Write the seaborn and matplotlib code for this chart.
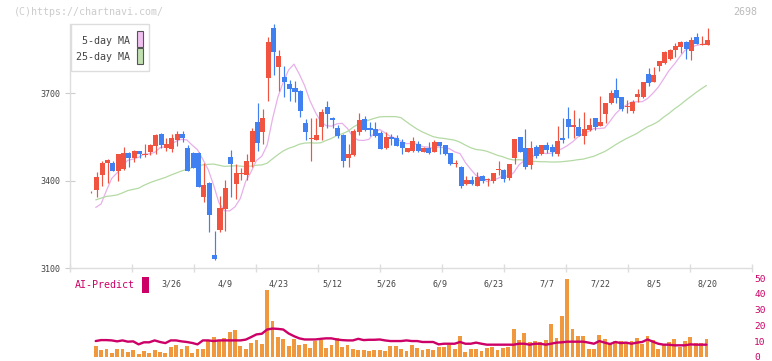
import numpy as np
import pandas as pd
import seaborn as sns
import matplotlib.pyplot as plt
from matplotlib.patches import Rectangle

# ---- data ----
date_labels = ['3/26', '4/9', '4/23', '5/12', '5/26', '6/9', '6/23', '7/7', '7/22', '8/5', '8/20']
date_pos = [15, 25, 35, 45, 55, 65, 75, 85, 95, 105, 115]

opens = [3360, 3369, 3419, 3460, 3461, 3434, 3440, 3495, 3479, 3502,
         3489, 3498, 3520, 3560, 3512, 3510, 3540, 3560, 3513, 3495,
         3494, 3345, 3392, 3146, 3231, 3303, 3482, 3388, 3424, 3419,
         3465, 3601, 3568, 3752, 3923, 3791, 3757, 3732, 3719, 3708,
         3599, 3544, 3541, 3585, 3654, 3615, 3582, 3558, 3479, 3488,
         3568, 3612, 3580, 3577, 3563, 3511, 3551, 3545, 3532, 3499,
         3502, 3525, 3499, 3513, 3499, 3532, 3522, 3494, 3457, 3448,
         3388, 3402, 3382, 3416, 3403, 3400, 3438, 3437, 3410, 3477,
         3549, 3511, 3454, 3515, 3490, 3522, 3515, 3490, 3545, 3612,
         3585, 3585, 3554, 3574, 3614, 3589, 3629, 3666, 3711, 3686,
         3652, 3640, 3686, 3686, 3766, 3740, 3795, 3803, 3818, 3849,
         3860, 3876, 3846, 3893, 3866, 3867]
highs = [3363, 3431, 3467, 3473, 3467, 3492, 3516, 3497, 3504, 3503,
         3526, 3526, 3559, 3562, 3545, 3560, 3570, 3572, 3522, 3498,
         3498, 3462, 3395, 3227, 3347, 3402, 3505, 3457, 3442, 3492,
         3582, 3668, 3645, 3893, 3938, 3849, 3795, 3746, 3742, 3710,
         3612, 3614, 3616, 3645, 3675, 3617, 3590, 3560, 3526, 3576,
         3631, 3622, 3602, 3600, 3570, 3566, 3559, 3556, 3543, 3513,
         3551, 3536, 3515, 3532, 3541, 3534, 3524, 3496, 3470, 3450,
         3416, 3416, 3429, 3418, 3408, 3427, 3468, 3440, 3458, 3544,
         3551, 3576, 3537, 3522, 3524, 3534, 3526, 3588, 3614, 3652,
         3643, 3614, 3635, 3614, 3616, 3691, 3668, 3711, 3752, 3688,
         3677, 3677, 3714, 3740, 3786, 3791, 3812, 3846, 3852, 3874,
         3878, 3878, 3894, 3906, 3897, 3925]
lows = [3359, 3345, 3383, 3391, 3432, 3400, 3436, 3448, 3465, 3478,
        3480, 3489, 3492, 3513, 3502, 3499, 3520, 3532, 3432, 3443,
        3377, 3326, 3225, 3128, 3225, 3228, 3345, 3338, 3402, 3402,
        3446, 3503, 3525, 3675, 3763, 3708, 3688, 3675, 3671, 3620,
        3540, 3468, 3539, 3540, 3580, 3580, 3545, 3448, 3448, 3486,
        3557, 3572, 3553, 3551, 3507, 3509, 3522, 3518, 3492, 3497,
        3497, 3497, 3497, 3491, 3497, 3490, 3488, 3455, 3448, 3375,
        3385, 3385, 3380, 3391, 3383, 3393, 3419, 3394, 3402, 3456,
        3497, 3439, 3441, 3477, 3488, 3494, 3486, 3485, 3530, 3545,
        3545, 3552, 3526, 3572, 3574, 3587, 3599, 3664, 3666, 3640,
        3633, 3633, 3671, 3684, 3725, 3738, 3775, 3800, 3815, 3826,
        3839, 3818, 3814, 3868, 3865, 3865]
closes = [3362, 3411, 3460, 3471, 3434, 3490, 3495, 3479, 3502, 3490,
          3492, 3522, 3557, 3522, 3526, 3546, 3560, 3546, 3434, 3445,
          3379, 3385, 3283, 3130, 3307, 3375, 3457, 3426, 3427, 3467,
          3570, 3529, 3616, 3877, 3841, 3828, 3740, 3715, 3705, 3640,
          3568, 3546, 3557, 3635, 3630, 3609, 3555, 3467, 3492, 3570,
          3608, 3574, 3575, 3553, 3509, 3551, 3543, 3520, 3513, 3511,
          3536, 3503, 3513, 3494, 3534, 3520, 3490, 3458, 3462, 3382,
          3402, 3388, 3414, 3400, 3406, 3425, 3441, 3405, 3456, 3542,
          3499, 3448, 3511, 3485, 3522, 3505, 3499, 3536, 3540, 3585,
          3591, 3554, 3576, 3591, 3585, 3601, 3666, 3702, 3683, 3645,
          3656, 3671, 3698, 3738, 3736, 3763, 3810, 3843, 3849, 3862,
          3876, 3851, 3883, 3870, 3869, 3883]

ma5 = [3308, 3320, 3366, 3408, 3427, 3453, 3470, 3474, 3480, 3491,
       3492, 3497, 3513, 3517, 3524, 3535, 3542, 3540, 3522, 3506,
       3473, 3438, 3385, 3324, 3297, 3296, 3310, 3339, 3398, 3430,
       3469, 3484, 3522, 3612, 3687, 3738, 3780, 3800, 3766, 3726,
       3674, 3635, 3603, 3589, 3587, 3595, 3597, 3579, 3551, 3539,
       3538, 3542, 3564, 3576, 3564, 3552, 3546, 3535, 3527, 3528,
       3525, 3517, 3515, 3511, 3516, 3513, 3510, 3499, 3493, 3462,
       3439, 3418, 3410, 3397, 3402, 3407, 3417, 3415, 3427, 3454,
       3469, 3470, 3491, 3497, 3493, 3494, 3504, 3509, 3520, 3533,
       3550, 3561, 3569, 3579, 3579, 3581, 3604, 3629, 3647, 3659,
       3670, 3671, 3671, 3682, 3700, 3721, 3749, 3778, 3800, 3825,
       3848, 3856, 3864, 3868, 3870]
ma25 = [3334, 3340, 3346, 3348, 3351, 3358, 3366, 3370, 3374, 3384,
        3392, 3399, 3405, 3411, 3419, 3426, 3433, 3439, 3445, 3451,
        3454, 3456, 3457, 3453, 3449, 3450, 3451, 3450, 3448, 3450,
        3453, 3454, 3460, 3475, 3489, 3502, 3511, 3517, 3525, 3529,
        3530, 3529, 3530, 3538, 3545, 3555, 3561, 3569, 3583, 3594,
        3603, 3608, 3614, 3619, 3620, 3620, 3620, 3616, 3602, 3589,
        3577, 3567, 3559, 3551, 3547, 3545, 3542, 3539, 3532, 3522,
        3513, 3507, 3505, 3501, 3494, 3487, 3482, 3475, 3471, 3472,
        3470, 3466, 3466, 3465, 3465, 3464, 3464, 3465, 3467, 3469,
        3472, 3474, 3479, 3484, 3492, 3500, 3511, 3523, 3534, 3544,
        3553, 3562, 3574, 3585, 3593, 3603, 3618, 3631, 3646, 3659,
        3674, 3688, 3702, 3715, 3727]

volume = [6.7, 4.4, 5.0, 2.5, 5.0, 5.0, 3.0, 4.4, 1.9, 3.6,
          2.3, 4.2, 3.0, 2.3, 6.1, 7.6, 5.0, 6.7, 2.5, 5.0,
          5.0, 10.5, 12.6, 10.9, 11.8, 15.7, 17.4, 6.9, 5.3, 8.6,
          10.7, 8.0, 42.6, 23.1, 12.6, 11.1, 6.7, 11.1, 7.4, 8.0,
          5.9, 10.1, 10.7, 5.9, 7.6, 12.2, 6.1, 7.4, 5.3, 4.2,
          4.2, 3.6, 4.2, 4.2, 3.6, 6.7, 6.7, 5.0, 3.6, 7.4,
          5.5, 4.6, 4.8, 4.2, 6.5, 6.1, 7.6, 4.8, 13.0, 3.0,
          4.8, 4.8, 3.6, 5.5, 6.5, 4.2, 5.5, 6.5, 18.0, 10.5,
          14.9, 9.5, 9.9, 9.5, 10.5, 21.2, 11.8, 26.2, 49.5, 17.8,
          13.0, 13.6, 4.8, 4.8, 14.0, 11.1, 8.0, 9.9, 10.1, 9.1,
          10.1, 11.8, 8.4, 13.4, 10.5, 4.8, 8.4, 9.3, 11.1, 6.5,
          9.9, 12.6, 9.1, 8.8, 11.3]
ai_predict = [10.1, 10.7, 10.7, 10.5, 9.9, 10.5, 9.7, 9.9, 8.0, 9.3,
              9.3, 10.5, 9.5, 8.8, 10.5, 10.5, 9.9, 9.5, 8.9, 8.0,
              10.5, 10.5, 10.1, 10.5, 10.5, 10.5, 10.5, 10.5, 11.0, 12.6,
              14.3, 14.7, 17.4, 18.0, 17.8, 17.4, 14.9, 13.2, 11.8, 11.1,
              11.1, 11.1, 11.5, 11.8, 11.8, 11.1, 10.7, 10.5, 10.5, 11.5,
              10.7, 10.9, 10.9, 11.1, 10.5, 10.1, 10.1, 10.1, 10.5, 10.1,
              10.1, 9.5, 9.5, 9.5, 8.0, 8.4, 8.4, 8.4, 9.5, 8.4,
              8.4, 9.1, 8.4, 7.8, 7.8, 7.8, 7.8, 7.8, 7.8, 8.4,
              8.4, 7.8, 8.4, 8.4, 7.8, 8.4, 9.1, 9.3, 9.7, 9.7,
              9.7, 9.7, 9.1, 8.4, 10.1, 9.1, 8.2, 9.5, 8.8, 9.1,
              8.4, 9.1, 9.5, 11.1, 9.7, 8.4, 7.8, 7.8, 7.4, 7.4,
              7.4, 8.0, 7.8, 7.8, 7.8]

price_ticks = [3100, 3400, 3700]
ai_ticks = [0, 10, 20, 30, 40, 50]

# ---- style ----
sns.set_style('white')
plt.rcParams['font.family'] = ['DejaVu Sans Mono', 'DejaVu Sans']

RED = '#f05440'
BLUE = '#4080f0'
PINK = '#e8b0ea'
GREEN = '#b4daa4'
ORANGE = '#f0983e'
MAGENTA = '#cc0066'
AXCOL = '#dddddd'

W, H = 772, 361
fig = plt.figure(figsize=(W / 100, H / 100), dpi=100)


def fx(x):
    return x / W


def fy(y):
    return 1 - y / H


XMIN, XMAX = -4.0, 123.3
ax = fig.add_axes([fx(70), fy(268), fx(752) - fx(70), fy(24) - fy(268)])
ax2 = fig.add_axes([fx(70), fy(357), fx(752) - fx(70), fy(278) - fy(357)])

# ---- candles ----
df = pd.DataFrame({'o': opens, 'h': highs, 'l': lows, 'c': closes})
df['i'] = np.arange(len(df))
df['up'] = df['c'] >= df['o']
df['col'] = np.where(df['up'], RED, BLUE)
df['bot'] = df[['o', 'c']].min(axis=1)
df['hgt'] = (df['c'] - df['o']).abs().clip(lower=2.5)

ax.vlines(df['i'], df['l'], df['h'], colors=df['col'], linewidth=0.85, zorder=3, clip_on=False)
ax.bar(df['i'], df['hgt'], bottom=df['bot'], width=0.94, color=df['col'],
       linewidth=0, zorder=4, clip_on=False)

# moving averages (drawn slightly right of candles, as in the chart)
ma = pd.DataFrame({'x': np.arange(len(ma5)) + 0.8, 'ma5': ma5, 'ma25': ma25})
sns.lineplot(data=ma, x='x', y='ma5', ax=ax, color=PINK, linewidth=0.9, zorder=2)
sns.lineplot(data=ma, x='x', y='ma25', ax=ax, color=GREEN, linewidth=0.9, zorder=2)

ax.set_xlim(XMIN, XMAX)
ax.set_ylim(3100, 3938)
ax.set_xlabel('')
ax.set_ylabel('')
for s in ['top', 'right']:
    ax.spines[s].set_visible(False)
for s in ['left', 'bottom']:
    ax.spines[s].set_color(AXCOL)
    ax.spines[s].set_linewidth(1.0)

ax.set_yticks(price_ticks)
ax.set_yticklabels([str(v) for v in price_ticks])
ax.tick_params(axis='y', direction='inout', length=6.5, width=0.8, color='#cccccc',
               labelsize=6, labelcolor='#444444', pad=3.5, left=True)
ax.set_xticks(date_pos)
ax.set_xticklabels(date_labels)
ax.set_xticks(np.linspace(XMIN, XMAX, 12), minor=True)
ax.tick_params(axis='x', which='major', length=0, labelsize=6, labelcolor='#444444', pad=8.5)
ax.tick_params(axis='x', which='minor', direction='inout', length=6, width=1.0,
               color=AXCOL, bottom=True)

# ---- lower panel: volume + AI-Predict ----
pos = np.arange(len(volume)) + 0.8
ax2.bar(pos, volume, width=0.72, color=ORANGE, linewidth=0, zorder=2)
ai = pd.DataFrame({'x': pos, 'ai': ai_predict})
sns.lineplot(data=ai, x='x', y='ai', ax=ax2, color=MAGENTA, linewidth=1.7, zorder=3)
ax2.set_xlim(XMIN, XMAX)
ax2.set_ylim(0, 50)
ax2.set_xlabel('')
ax2.set_ylabel('')
for s in ax2.spines.values():
    s.set_visible(False)
ax2.set_xticks([])
ax2.yaxis.tick_right()
ax2.set_yticks(ai_ticks)
ax2.set_yticklabels([str(v) for v in ai_ticks])
ax2.tick_params(axis='y', length=0, pad=1.5, labelsize=6.8, labelcolor=MAGENTA)
ax2.patch.set_alpha(0)

# ---- legend box ----
fig.patches.append(Rectangle((fx(70.5), fy(71)), fx(148.5) - fx(70.5), fy(24) - fy(71),
                             transform=fig.transFigure, facecolor='white',
                             edgecolor=AXCOL, linewidth=1.0, zorder=10))
fig.text(fx(130), fy(40.5), '5-day MA', ha='right', va='center', fontsize=7.2,
         color='#444444', zorder=11)
fig.text(fx(130), fy(57), '25-day MA', ha='right', va='center', fontsize=7.2,
         color='#444444', zorder=11)
fig.patches.append(Rectangle((fx(136.5), fy(46.5)), fx(142.5) - fx(136.5), fy(31) - fy(46.5),
                             transform=fig.transFigure, facecolor='#f0c0f0',
                             edgecolor='#555555', linewidth=0.8, zorder=11))
fig.patches.append(Rectangle((fx(136.5), fy(63.5)), fx(142.5) - fx(136.5), fy(48) - fy(63.5),
                             transform=fig.transFigure, facecolor='#c0e0b0',
                             edgecolor='#555555', linewidth=0.8, zorder=11))

# ---- other texts ----
fig.text(fx(14), fy(12), '(C)https://chartnavi.com/', ha='left', va='center',
         fontsize=7.2, color='#cccccc')
fig.text(fx(757), fy(12), '2698', ha='right', va='center', fontsize=7.2, color='#bbbbbb')
fig.text(fx(75), fy(285), 'AI-Predict', ha='left', va='center', fontsize=7.2, color=MAGENTA)
fig.patches.append(Rectangle((fx(142), fy(293)), fx(149) - fx(142), fy(277) - fy(293),
                             transform=fig.transFigure, facecolor=MAGENTA,
                             edgecolor='none', zorder=10))

fig.savefig('out.png', dpi=100)
